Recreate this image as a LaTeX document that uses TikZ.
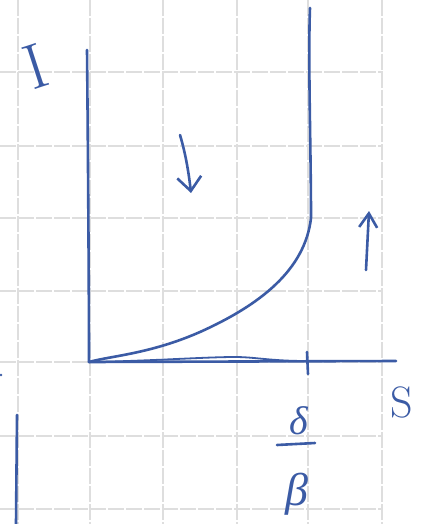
\documentclass[tikz,border=0pt]{standalone}
\usepackage{fontspec}
\newfontfamily\greekfont{Liberation Serif}
\usetikzlibrary{arrows.meta,calc}
\definecolor{ink}{HTML}{3B5BA5}
\definecolor{gridc}{HTML}{DEDEDE}
\begin{document}
\begin{tikzpicture}[x=1pt,y=-1pt,
  gridline/.style={gridc, line width=1.2pt, dash pattern=on 16pt off 2pt},
  pen/.style={ink, line width=2.6pt, line cap=round, line join=round},
  lbl/.style={ink, inner sep=0pt}]
\useasboundingbox (0,0) rectangle (426,524);
\fill[white] (0,0) rectangle (426,524);
% grid paper
\foreach \gx in {18,90,163,237,308,382} \draw[gridline] (\gx,0) -- (\gx,524);
\foreach \gy in {72,146,218,291,362,436,509} \draw[gridline] (0,\gy) -- (383,\gy);
% named points
\coordinate (O) at (89,362);
\coordinate (ytop) at (87,50);
\coordinate (xend) at (396,361);
\coordinate (tick) at (307,361);
\coordinate (rtop) at (310,8);
\coordinate (rbend) at (311,218);
% axes
\draw[pen] (ytop) .. controls (88,150) and (89,300) .. (O);
\draw[pen] (O) -- (xend);
\draw[pen] ($(tick)+(0,-9)$) -- ($(tick)+(1,13)$);
% curve along the axis
\draw[pen, line width=1.8pt] (O) .. controls (150,361) and (205,357) .. (235,357) .. controls (255,357) and (270,361) .. (tick);
% vertical branch and curve
\draw[pen] (rtop) .. controls (308,60) and (311,150) .. (rbend)
  .. controls (305,270) and (260,305) .. (200,332)
  .. controls (150,354) and (110,356) .. (O);
% arrows
\draw[pen, -{Straight Barb[length=14pt,width=24pt]}] (180,135) .. controls (186,155) and (189,175) .. (191,193);
\draw[pen, -{Straight Barb[length=14pt,width=18pt]}] (366,270) -- (369,211);
% left fragments
\draw[pen] (17,415) -- (16,524);
\fill[ink] (1,375) circle (1.3pt);
% labels
\node[lbl, font=\fontsize{64}{64}\selectfont, rotate=18] (Ilab) at (36,66) {I};
\node[lbl, font=\fontsize{44}{44}\selectfont] (Slab) at (402,402) {S};
\node[lbl, font=\fontsize{40}{40}\selectfont\greekfont\itshape] (dlab) at (299,421) {δ};
\draw[pen] (277,445) -- (315,443);
\node[lbl, font=\fontsize{46}{46}\selectfont\greekfont\itshape] (blab) at (297,494) {β};
\end{tikzpicture}
\end{document}
